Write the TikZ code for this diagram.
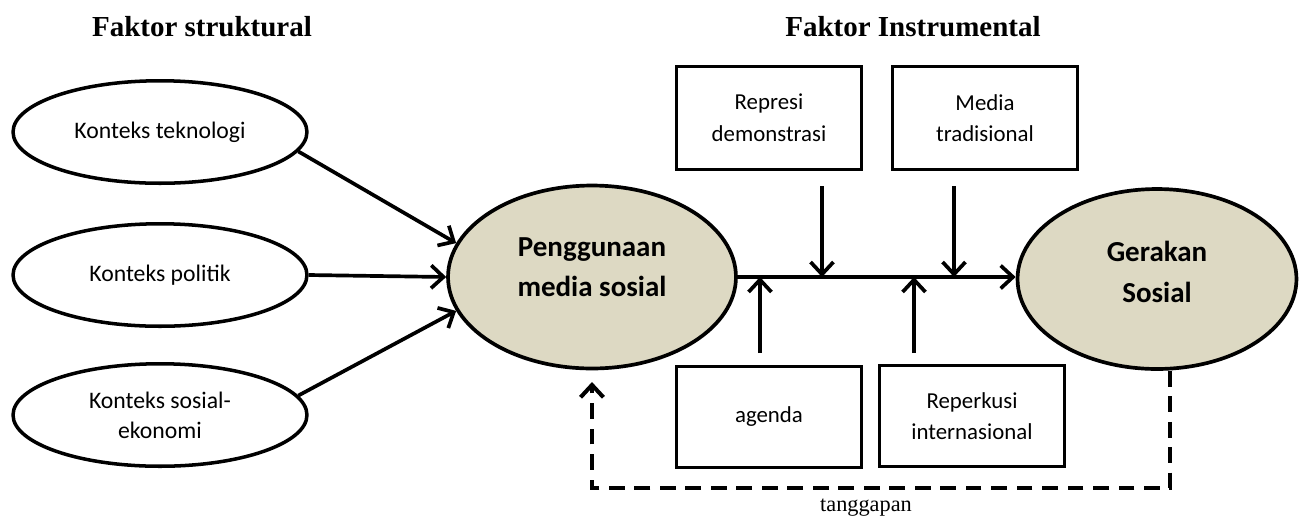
\documentclass[tikz,border=0pt]{standalone}
\usepackage{fontspec}
\setmainfont{Carlito}
\newfontfamily\titlefont{Liberation Serif}
\usetikzlibrary{shapes.geometric, arrows.meta}
\definecolor{ovalfill}{RGB}{221,217,195}
\tikzstyle{every node}=[font=\fontsize{13.5}{17}\selectfont]
\tikzstyle{context} = [ellipse, draw, line width=2pt, minimum width=5.88cm, minimum height=2.05cm, inner sep=0pt, align=center]
\tikzstyle{core} = [ellipse, draw, fill=ovalfill, line width=2.1pt, inner sep=0pt]
\tikzstyle{coretext} = [font=\fontsize{16.5}{23}\selectfont\bfseries, align=center]
\tikzstyle{block} = [rectangle, draw, line width=1.3pt, minimum width=3.7cm, align=center, font=\fontsize{13}{18}\selectfont]
\tikzstyle{heading} = [font=\titlefont\bfseries\fontsize{16.5}{20}\selectfont]
\tikzstyle{line} = [draw, line width=2.1pt, -{Straight Barb[length=7pt,width=13pt]}]
\tikzstyle{feedback} = [line, line width=2.3pt, dash pattern=on 9pt off 5.5pt]

\begin{document}
\begin{tikzpicture}[x=0.02cm, y=-0.02cm]
    \useasboundingbox (0,0) rectangle (1302,522);
    % Place nodes
    \node [heading] (hstruct) at (202,27) {Faktor struktural};
    \node [heading] (hinstr) at (913,27) {Faktor Instrumental};
    \node [context] (tekno) at (160,132) {Konteks teknologi};
    \node [context] (politik) at (160,275) {Konteks politik};
    \node [context] (sosek) at (160,415) {Konteks sosial-\\ekonomi};
    \node [core, minimum width=5.76cm, minimum height=3.66cm] (pmedia) at (592,277) {};
    \node [coretext] (ptext) at (592,267) {Penggunaan\\media sosial};
    \node [core, minimum width=5.58cm, minimum height=3.6cm] (gerakan) at (1157,279) {};
    \node [coretext] (gtext) at (1157,272) {Gerakan\\Sosial};
    \node [block, minimum height=2.06cm] (represi) at (769,118) {Represi\\demonstrasi};
    \node [block, minimum height=2.06cm] (tradisi) at (985,118) {Media\\tradisional};
    \node [block, minimum height=2.02cm] (agenda) at (769,417) {agenda};
    \node [block, minimum height=2.02cm] (reperkusi) at (972,416) {Reperkusi\\internasional};
    \node [font=\titlefont\fontsize{12.7}{15}\selectfont] (tanggap) at (866,508) {tanggapan};
    % Points on the main line
    \coordinate (d1) at (822,186);
    \coordinate (d2) at (954,186);
    \coordinate (u1) at (760,353);
    \coordinate (u2) at (914,353);
    \coordinate (fbR) at (1170,488);
    \coordinate (fbL) at (592,488);
    \coordinate (fbtip) at (592,382);
    % Draw edges
    \path [line] (tekno.-8) -- (pmedia.166);
    \path [line] (politik.east) -- (pmedia.west);
    \path [line] (sosek.8) -- (pmedia.194);
    \path [line] (pmedia.east) -- (gerakan.west |- pmedia.east);
    \path [line] (d1) -- (d1 |- pmedia.east);
    \path [line] (d2) -- (d2 |- pmedia.east);
    \path [line] (u1) -- (u1 |- pmedia.east);
    \path [line] (u2) -- (u2 |- pmedia.east);
    \path [feedback] (gerakan.south -| fbR) -- (fbR) -- (fbL) -- (fbtip);
\end{tikzpicture}
\end{document}
